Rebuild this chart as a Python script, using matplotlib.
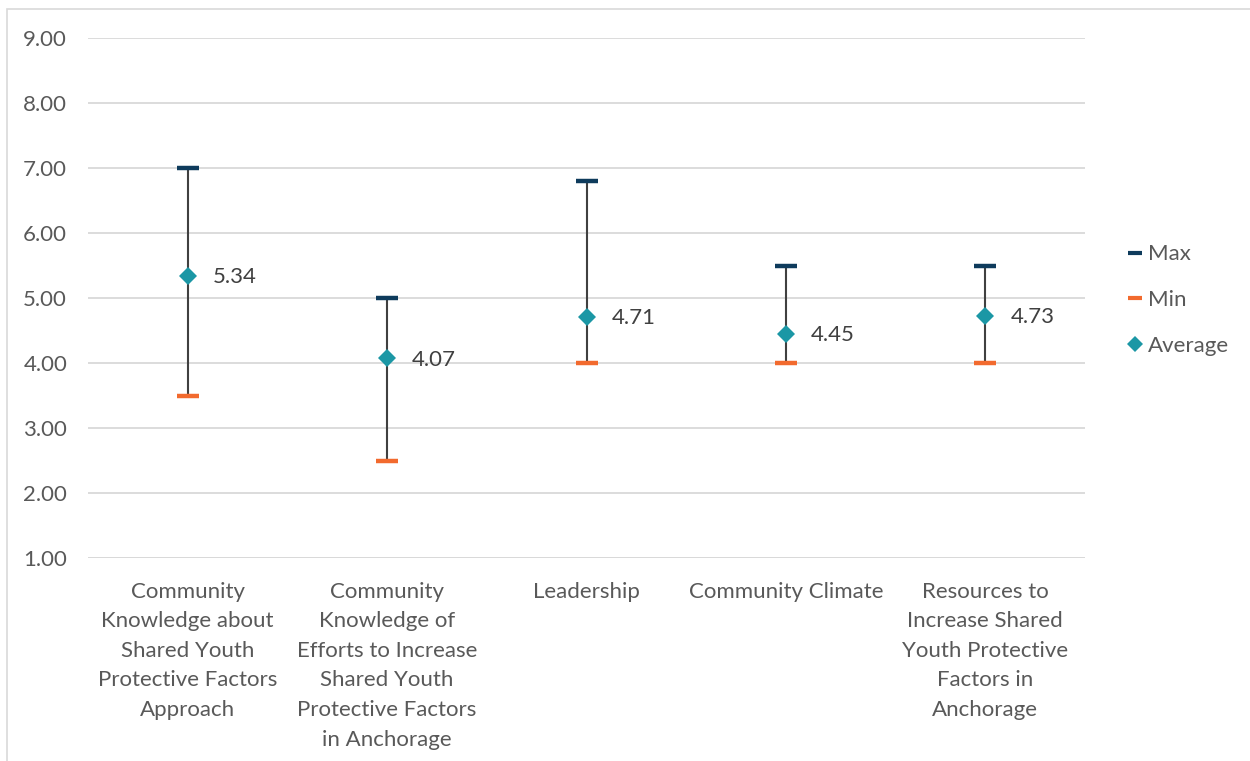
import matplotlib
matplotlib.use("Agg")
import matplotlib.pyplot as plt
from matplotlib.lines import Line2D
from matplotlib.patches import Rectangle

categories = [
    "Community\nKnowledge about\nShared Youth\nProtective Factors\nApproach",
    "Community\nKnowledge of\nEfforts to Increase\nShared Youth\nProtective Factors\nin Anchorage",
    "Leadership",
    "Community Climate",
    "Resources to\nIncrease Shared\nYouth Protective\nFactors in\nAnchorage",
]
max_vals = [7.00, 5.00, 6.80, 5.50, 5.50]
min_vals = [3.50, 2.50, 4.00, 4.00, 4.00]
avg_vals = [5.34, 4.07, 4.71, 4.45, 4.73]
y_ticks = [1, 2, 3, 4, 5, 6, 7, 8, 9]

C_MAX = "#0E3B5C"
C_MIN = "#F26A2E"
C_AVG = "#1B97A5"
C_TXT = "#595959"
C_GRID = "#D9D9D9"
FS = 16

plt.rcParams["font.family"] = ["Lato", "DejaVu Sans"]

fig = plt.figure(figsize=(12.5, 7.61), dpi=100)
# thin frame around the chart area
fig.patches.append(Rectangle((7 / 1250, -0.1), 1.2, 752 / 761 + 0.1,
                             transform=fig.transFigure, fill=False,
                             edgecolor="#D9D9D9", linewidth=1.2))
ax = fig.add_axes([88 / 1250, 1 - 558 / 761, (1085 - 88) / 1250, (558 - 38) / 761])

x = list(range(len(categories)))

# high-low lines with max/min caps and average markers
ax.vlines(x, min_vals, max_vals, color="#404040", linewidth=1.5, zorder=2)
ax.plot(x, max_vals, linestyle="none", marker="_", markersize=16,
        markeredgewidth=3.2, color=C_MAX, zorder=3)
ax.plot(x, min_vals, linestyle="none", marker="_", markersize=16,
        markeredgewidth=3.2, color=C_MIN, zorder=3)
ax.plot(x, avg_vals, linestyle="none", marker="D", markersize=9.5,
        color=C_AVG, markeredgewidth=0, zorder=4)

for xi, v in zip(x, avg_vals):
    ax.annotate(f"{v:.2f}", (xi, v), xytext=(18, -1), textcoords="offset points",
                ha="left", va="center", fontsize=FS, color="#404040")

ax.set_xlim(-0.5, len(categories) - 0.5)
ax.set_ylim(1, 9)
ax.set_yticks(y_ticks)
ax.set_yticklabels([f"{t:.2f}" for t in y_ticks])
ax.set_xticks(x)
ax.set_xticklabels(categories, fontsize=FS, color=C_TXT, linespacing=1.6)
ax.tick_params(axis="y", length=0, pad=15, labelsize=FS, labelcolor=C_TXT)
ax.tick_params(axis="x", length=0, pad=17)
ax.grid(axis="y", color=C_GRID, linewidth=1.3)
ax.set_axisbelow(True)
for s in ax.spines.values():
    s.set_visible(False)
ax.axhline(1, color=C_GRID, linewidth=1.3, zorder=1)

handles = [
    Line2D([], [], linestyle="none", marker="_", markersize=10, markeredgewidth=3, color=C_MAX),
    Line2D([], [], linestyle="none", marker="_", markersize=10, markeredgewidth=3, color=C_MIN),
    Line2D([], [], linestyle="none", marker="D", markersize=8, markeredgewidth=0, color=C_AVG),
]
fig.legend(handles, ["Max", "Min", "Average"], loc="center left",
           bbox_to_anchor=(1106 / 1250, 1 - 300 / 761), frameon=False,
           fontsize=FS, labelcolor=C_TXT, handlelength=0.8, handletextpad=0.2,
           labelspacing=1.15)

fig.savefig("out.png", dpi=100)
